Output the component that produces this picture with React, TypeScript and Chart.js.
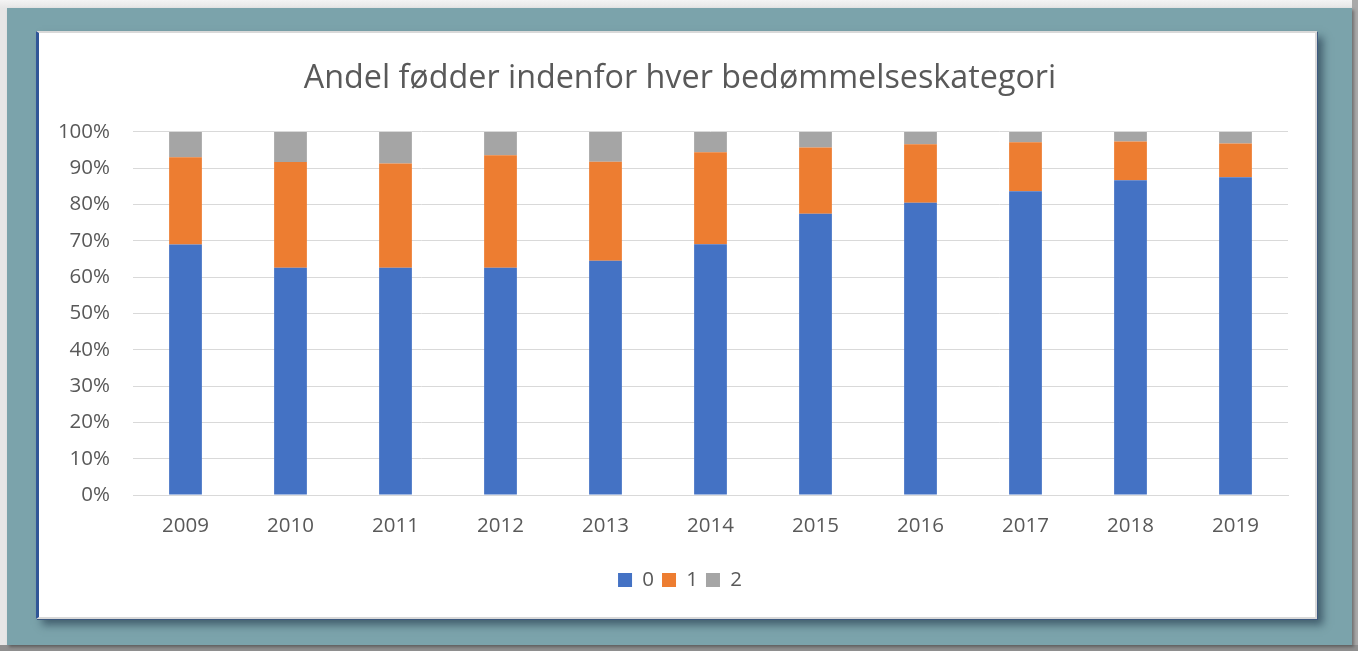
import React, { useEffect, useRef } from "react";
import { Chart, registerables } from "chart.js";

Chart.register(...registerables);

const years = ["2009", "2010", "2011", "2012", "2013", "2014", "2015", "2016", "2017", "2018", "2019"];
const cat0 = [69.0, 62.6, 62.6, 62.6, 64.5, 69.1, 77.5, 80.5, 83.7, 86.7, 87.5];
const cat1 = [24.0, 29.1, 28.7, 31.0, 27.3, 25.3, 18.2, 16.1, 13.5, 10.7, 9.3];
const cat2 = [7.0, 8.3, 8.7, 6.4, 8.2, 5.6, 4.3, 3.4, 2.8, 2.6, 3.2];
const seriesNames = ["0", "1", "2"];
const seriesColors = ["#4472C4", "#ED7D31", "#A5A5A5"];
const title = "Andel fødder indenfor hver bedømmelseskategori";

const FONT = "'Open Sans', 'Noto Sans', sans-serif";
const TEXT = "#595959";

export default function App() {
  const ref = useRef<HTMLCanvasElement | null>(null);

  useEffect(() => {
    if (!ref.current) return;
    const chart = new Chart(ref.current, {
      type: "bar",
      data: {
        labels: years,
        datasets: [cat0, cat1, cat2].map((d, i) => ({
          label: seriesNames[i],
          data: d,
          backgroundColor: seriesColors[i],
          borderWidth: 0,
          barPercentage: 1,
          categoryPercentage: 0.312,
        })),
      },
      options: {
        responsive: false,
        animation: false,
        devicePixelRatio: 1,
        layout: { padding: { left: 7, right: 0, top: 0, bottom: 18.75 } },
        plugins: {
          title: {
            display: true,
            text: title,
            color: TEXT,
            font: { family: FONT, size: 32.3, weight: "normal" },
            padding: { top: 28, bottom: 34.2 },
          },
          legend: {
            display: true,
            position: "bottom",
            labels: {
              color: TEXT,
              font: { family: FONT, size: 20.5 },
              boxWidth: 14,
              boxHeight: 14,
              padding: 8,
            },
          },
          tooltip: { enabled: false },
        },
        scales: {
          x: {
            stacked: true,
            grid: { display: false, drawTicks: false },
            border: { display: true, color: "#D9D9D9", width: 1 },
            ticks: { color: TEXT, font: { family: FONT, size: 20.5 }, padding: 19, maxRotation: 0 },
            afterFit: (s: any) => { s.width = s.width; s.height = 66.75; },
          },
          y: {
            stacked: true,
            min: 0,
            max: 100,
            grid: { color: "#D9D9D9", lineWidth: 1, drawTicks: false },
            border: { display: false },
            ticks: {
              stepSize: 10,
              color: TEXT,
              font: { family: FONT, size: 20.5 },
              padding: 23,
              callback: (v: any) => v + "%",
            },
            afterFit: (s: any) => { s.width = 90; },
          },
          yRight: {
            type: "linear",
            position: "right",
            display: true,
            min: 0,
            max: 100,
            grid: { display: false, drawTicks: false },
            border: { display: false },
            ticks: { display: false },
            afterFit: (s: any) => { s.width = 29; },
          },
        },
      },
    });
    return () => chart.destroy();
  }, []);

  return (
    <div style={{ position: "fixed", left: 0, top: 0, width: 1358, height: 651, background: "#ececec", overflow: "hidden" }}>
      <div style={{ position: "absolute", left: 0, top: 0, width: 1358, height: 651, background: "linear-gradient(to bottom, #f4f4f4 0px, #e6e6e6 8px)" }} />
      <div style={{ position: "absolute", left: 1352, top: 0, width: 6, height: 651, background: "#a9a9a9" }} />
      <div style={{ position: "absolute", left: 0, top: 645, width: 1358, height: 6, background: "#8f8f8f" }} />
      <div style={{ position: "absolute", left: 7, top: 8, width: 1345, height: 637, background: "#7BA3AB", boxShadow: "2px 2px 3px rgba(0,0,0,0.35)" }} />
      <div style={{ position: "absolute", left: 36, top: 31, width: 1281, height: 588, boxSizing: "border-box", background: "#ffffff", borderTop: "2px solid #D9D9D9", borderRight: "2px solid #D9D9D9", borderBottom: "2px solid #D9D9D9", borderLeft: "3px solid #2F5597", boxShadow: "1px 1px 0 #3d5a80, 6px 6px 8px rgba(20,40,60,0.55)" }} />
      <canvas ref={ref} width={1281} height={588} style={{ position: "absolute", left: 36, top: 31, width: 1281, height: 588 }} />
    </div>
  );
}
